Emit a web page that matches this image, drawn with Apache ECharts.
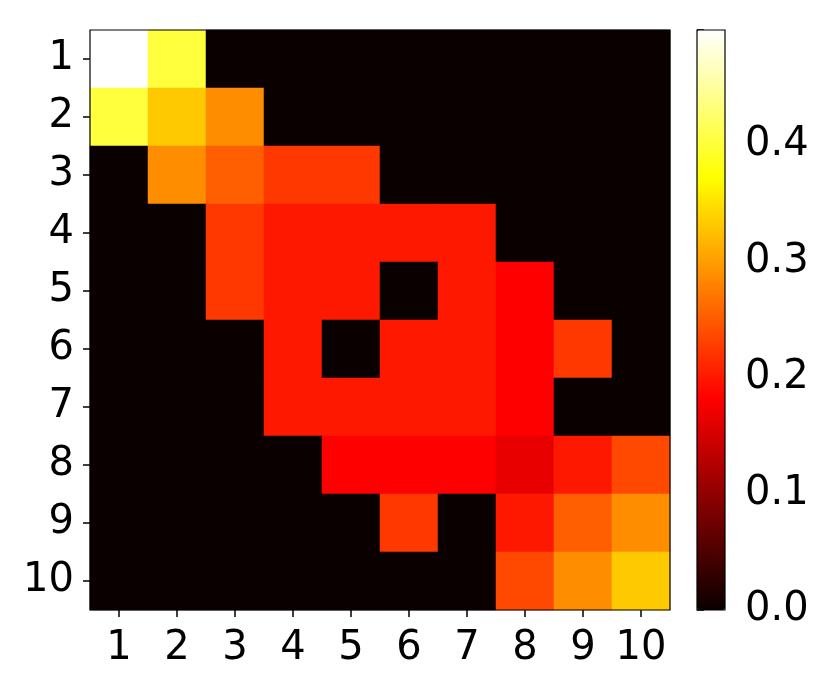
<!DOCTYPE html>
<html>
<head>
<meta charset="utf-8">
<script src="https://cdn.jsdelivr.net/npm/echarts@6/dist/echarts.min.js"></script>
<style>html,body{margin:0;padding:0;background:#fff}#c{width:830px;height:691px}</style>
</head>
<body>
<div id="c"></div>
<script>
// ---- data ----
const xLabels = ['1','2','3','4','5','6','7','8','9','10'];
const yLabels = ['1','2','3','4','5','6','7','8','9','10'];
const colorbarTicks = [0.0, 0.1, 0.2, 0.3, 0.4];
const vmin = 0;
const vmax = 0.499;
const row1  = [0.499, 0.403, 0, 0, 0, 0, 0, 0, 0, 0];
const row2  = [0.403, 0.332, 0.287, 0, 0, 0, 0, 0, 0, 0];
const row3  = [0, 0.287, 0.253, 0.224, 0.224, 0, 0, 0, 0, 0];
const row4  = [0, 0, 0.224, 0.200, 0.200, 0.200, 0.200, 0, 0, 0];
const row5  = [0, 0, 0.224, 0.200, 0.200, 0, 0.200, 0.181, 0, 0];
const row6  = [0, 0, 0, 0.200, 0, 0.200, 0.200, 0.181, 0.224, 0];
const row7  = [0, 0, 0, 0.200, 0.200, 0.200, 0.200, 0.181, 0, 0];
const row8  = [0, 0, 0, 0, 0.181, 0.181, 0.181, 0.165, 0.200, 0.236];
const row9  = [0, 0, 0, 0, 0, 0.224, 0, 0.200, 0.253, 0.287];
const row10 = [0, 0, 0, 0, 0, 0, 0, 0.236, 0.287, 0.332];
const rows = [row1, row2, row3, row4, row5, row6, row7, row8, row9, row10];

// ---- build heatmap data ----
const heat = [];
rows.forEach((r, yi) => r.forEach((v, xi) => heat.push([xi, yi, v])));

// matplotlib 'hot' colormap stops (style)
function hot(t) {
  const r = t < 0.365079 ? 0.0416 + (1 - 0.0416) * t / 0.365079 : 1;
  const g = t < 0.365079 ? 0 : (t < 0.746032 ? (t - 0.365079) / (0.746032 - 0.365079) : 1);
  const b = t < 0.746032 ? 0 : (t - 0.746032) / (1 - 0.746032);
  const h = x => Math.round(Math.max(0, Math.min(1, x)) * 255).toString(16).padStart(2, '0');
  return '#' + h(r) + h(g) + h(b);
}
const hotColors = [];
for (let i = 0; i <= 200; i++) hotColors.push(hot(i / 200));

const FONT = 'DejaVu Sans';
const FS = 40;
const chart = echarts.init(document.getElementById('c'), null, {renderer: 'canvas'});
chart.setOption({
  animation: false,
  backgroundColor: '#ffffff',
  grid: [
    {left: 90, top: 30, width: 580, height: 580},
    {left: 697, top: 30, width: 28, height: 580}
  ],
  xAxis: [
    {
      gridIndex: 0, type: 'category', data: xLabels, position: 'bottom',
      axisLine: {show: false},
      axisTick: {show: true, alignWithLabel: true, interval: 0, length: 7, lineStyle: {color: '#000', width: 1.5}},
      axisLabel: {color: '#000', fontFamily: FONT, fontSize: FS, margin: 19, interval: 0},
      splitLine: {show: false}
    },
    {gridIndex: 1, type: 'value', min: 0, max: 1, show: false}
  ],
  yAxis: [
    {
      gridIndex: 0, type: 'category', data: yLabels, inverse: true,
      axisLine: {show: false},
      axisTick: {show: true, alignWithLabel: true, interval: 0, length: 7, lineStyle: {color: '#000', width: 1.5}},
      axisLabel: {color: '#000', fontFamily: FONT, fontSize: FS, margin: 16, interval: 0, padding: [8, 0, 0, 0]},
      splitLine: {show: false}
    },
    {
      gridIndex: 1, type: 'value', min: vmin, max: vmax, interval: 0.1, position: 'right',
      axisLine: {show: false},
      axisTick: {show: true, length: 7, lineStyle: {color: '#000', width: 1.5}},
      axisLabel: {color: '#000', fontFamily: FONT, fontSize: FS, margin: 20, padding: [4, 0, 0, 0],
        formatter: v => colorbarTicks.some(t => Math.abs(t - v) < 1e-9) ? v.toFixed(1) : ''},
      splitLine: {show: false}
    }
  ],
  visualMap: {
    type: 'continuous', min: vmin, max: vmax, calculable: false, show: true,
    left: 697, top: 30, itemWidth: 28, itemHeight: 580, padding: 0,
    text: null, showLabel: false, hoverLink: false,
    inRange: {color: hotColors}, seriesIndex: 0
  },
  graphic: [
    {type: 'rect', z: 100, shape: {x: 90, y: 30, width: 580, height: 580},
     style: {fill: 'none', stroke: '#000', lineWidth: 1.2}},
    {type: 'rect', z: 100, shape: {x: 697, y: 30, width: 28, height: 580},
     style: {fill: 'none', stroke: '#000', lineWidth: 1.2}}
  ],
  series: [
    {type: 'heatmap', xAxisIndex: 0, yAxisIndex: 0, data: heat, itemStyle: {borderWidth: 0},
     emphasis: {disabled: true}}
  ]
});
</script>
</body>
</html>
